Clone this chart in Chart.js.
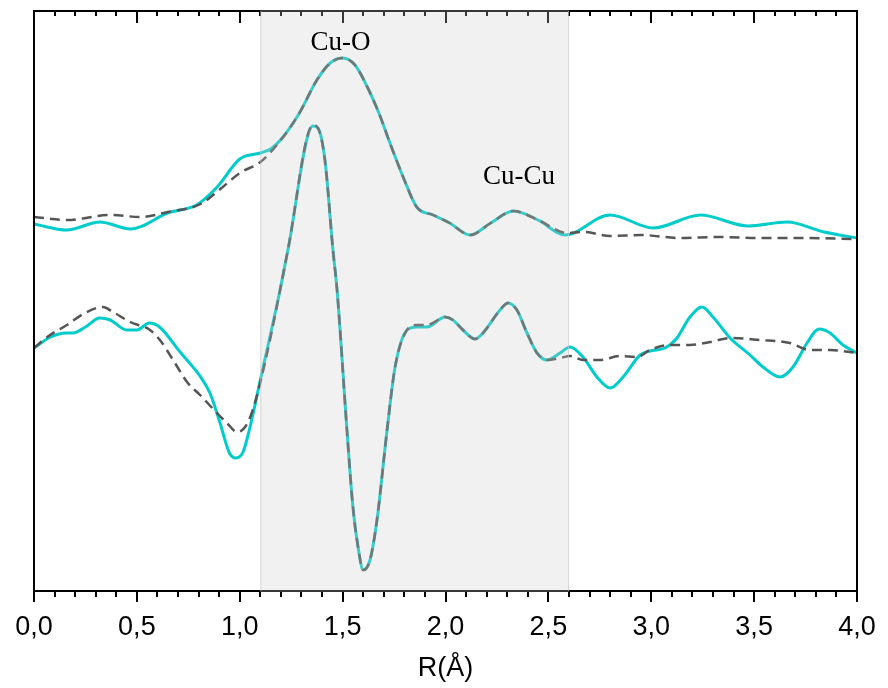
<!DOCTYPE html>
<html>
<head>
<meta charset="utf-8">
<script src="https://cdn.jsdelivr.net/npm/chart.js@4.4.0/dist/chart.umd.min.js"></script>
<style>
  html, body { margin: 0; padding: 0; background: #fff; }
  #wrap { width: 888px; height: 688px; position: relative; }
</style>
</head>
<body>
<div id="wrap"><canvas id="c"></canvas></div>
<script>
// ---- Data (R in Å, intensity in arbitrary units) ----
const magExpR = [0, 0.16, 0.32, 0.47, 0.65, 0.79, 0.89, 1.00, 1.10, 1.15, 1.21, 1.29, 1.375, 1.44, 1.50, 1.56, 1.62, 1.68, 1.73, 1.80, 1.86, 1.94, 2.02, 2.12, 2.22, 2.33, 2.45, 2.58, 2.80, 3.01, 3.24, 3.47, 3.66, 3.84, 4.0];
const magExpI = [367, 361, 369, 362, 378, 386, 404, 432, 438, 442, 454, 478, 511, 528, 533, 526, 504, 476, 448, 411, 384, 376, 368, 356, 368, 380, 371, 356, 376, 363, 376, 365, 369, 359, 353];

const magFitR = [0, 0.16, 0.37, 0.52, 0.65, 0.81, 0.90, 1.00, 1.10, 1.20, 1.29, 1.375, 1.44, 1.50, 1.56, 1.62, 1.68, 1.73, 1.80, 1.86, 1.94, 2.02, 2.12, 2.22, 2.33, 2.45, 2.59, 2.67, 2.80, 2.95, 3.14, 3.33, 3.53, 3.72, 4.0];
const magFitI = [374, 371, 376, 374, 379, 387, 401, 418, 429, 451, 478, 511, 528, 533, 526, 504, 476, 448, 411, 384, 376, 368, 356, 368, 380, 371, 358, 359, 355, 356, 353, 354, 353, 353, 352];

const imExpR = [0, 0.08, 0.16, 0.19, 0.25, 0.32, 0.37, 0.45, 0.50, 0.56, 0.61, 0.71, 0.81, 0.855, 0.90, 0.95, 0.98, 1.016, 1.05, 1.10, 1.196, 1.234, 1.356, 1.38, 1.414, 1.453, 1.473, 1.521, 1.55, 1.575, 1.60, 1.633, 1.667, 1.716, 1.755, 1.813, 1.861, 1.91, 1.998, 2.036, 2.085, 2.143, 2.182, 2.265, 2.304, 2.347, 2.396, 2.445, 2.493, 2.557, 2.605, 2.668, 2.736, 2.80, 2.863, 2.946, 2.994, 3.067, 3.125, 3.188, 3.247, 3.30, 3.383, 3.48, 3.543, 3.626, 3.689, 3.757, 3.816, 3.869, 3.932, 4.0];
const imExpI = [243, 254, 258, 258, 264, 273, 271, 261, 261, 268, 264, 239, 214, 198, 171, 138, 133, 139, 164, 211, 301, 341, 465, 463, 431, 341, 301, 161, 84, 44, 21, 31, 71, 161, 224, 261, 264, 264, 274, 271, 261, 252, 258, 281, 288, 281, 258, 238, 231, 238, 244, 234, 214, 203, 214, 236, 240, 243, 253, 274, 284, 274, 253, 236, 224, 214, 224, 248, 262, 258, 246, 238];

const imFitR = [0, 0.078, 0.16, 0.248, 0.335, 0.384, 0.467, 0.564, 0.612, 0.676, 0.744, 0.807, 0.889, 0.938, 0.987, 1.026, 1.06, 1.099, 1.147, 1.196, 1.234, 1.356, 1.38, 1.414, 1.453, 1.473, 1.521, 1.55, 1.575, 1.60, 1.633, 1.667, 1.716, 1.755, 1.813, 1.861, 1.91, 1.998, 2.036, 2.085, 2.143, 2.182, 2.265, 2.304, 2.347, 2.396, 2.445, 2.493, 2.557, 2.605, 2.668, 2.751, 2.848, 2.931, 2.994, 3.091, 3.188, 3.286, 3.383, 3.529, 3.674, 3.771, 3.869, 4.0];
const imFitI = [243, 256, 266, 278, 284, 279, 269, 261, 251, 231, 209, 196, 178, 168, 159, 164, 179, 208, 251, 301, 341, 466, 463, 431, 341, 301, 161, 84, 44, 21, 31, 71, 161, 224, 261, 266, 266, 274, 271, 261, 252, 258, 281, 288, 281, 258, 238, 231, 233, 235, 231, 231, 235, 234, 241, 246, 246, 249, 253, 251, 248, 241, 241, 238];

const xTickValues = [0, 0.5, 1.0, 1.5, 2.0, 2.5, 3.0, 3.5, 4.0];
const fitWindow = [1.1, 2.6];
const peakLabels = ['Cu-O', 'Cu-Cu'];
const peakLabelR = [1.49, 2.357];
const peakLabelI = [541, 407];

const toXY = (xs, ys) => xs.map((x, i) => ({ x: x, y: ys[i] }));

const CYAN = '#00CCCC';
const GREY = '#555555';

const decor = {
  id: 'decor',
  afterDraw(chart) {
    const ctx = chart.ctx;
    const xs = chart.scales.x, ys = chart.scales.y;
    const { left, right, top, bottom } = chart.chartArea;
    ctx.save();
    // frame
    ctx.strokeStyle = '#000';
    ctx.lineWidth = 2;
    ctx.strokeRect(left, top, right - left, bottom - top);
    // minor ticks + top ticks
    ctx.beginPath();
    for (let i = 0; i <= 40; i++) {
      const v = i / 10;
      const px = Math.round(xs.getPixelForValue(v));
      const major = i % 5 === 0;
      ctx.moveTo(px, top);
      ctx.lineTo(px, top + (major ? 12 : 5));
      if (!major) {
        ctx.moveTo(px, bottom);
        ctx.lineTo(px, bottom + 6);
      }
    }
    ctx.stroke();
    // shaded fit window
    const x0 = xs.getPixelForValue(fitWindow[0]);
    const x1 = xs.getPixelForValue(fitWindow[1]);
    ctx.fillStyle = 'rgba(205,205,205,0.27)';
    ctx.fillRect(x0, top - 1, x1 - x0, bottom - top + 2);
    ctx.strokeStyle = 'rgba(200,200,200,0.6)';
    ctx.lineWidth = 1;
    ctx.beginPath();
    ctx.moveTo(x0 + 0.5, top); ctx.lineTo(x0 + 0.5, bottom);
    ctx.moveTo(x1 - 0.5, top); ctx.lineTo(x1 - 0.5, bottom);
    ctx.stroke();
    // peak labels
    ctx.fillStyle = '#000';
    ctx.font = '27px "Liberation Serif", "Times New Roman", serif';
    ctx.textAlign = 'center';
    ctx.textBaseline = 'alphabetic';
    peakLabels.forEach((t, i) => {
      ctx.fillText(t, xs.getPixelForValue(peakLabelR[i]), ys.getPixelForValue(peakLabelI[i]));
    });
    ctx.restore();
  }
};

const lineDs = (data, color, dashed, order) => ({
  data: data,
  borderColor: color,
  borderWidth: dashed ? 2.5 : 3,
  borderDash: dashed ? [10, 6] : [],
  pointRadius: 0,
  fill: false,
  cubicInterpolationMode: 'monotone',
  order: order
});

new Chart(document.getElementById('c'), {
  type: 'line',
  data: {
    datasets: [
      lineDs(toXY(magFitR, magFitI), GREY, true, 0),
      lineDs(toXY(imFitR, imFitI), GREY, true, 0),
      lineDs(toXY(magExpR, magExpI), CYAN, false, 1),
      lineDs(toXY(imExpR, imExpI), CYAN, false, 1)
    ]
  },
  options: {
    responsive: true,
    maintainAspectRatio: false,
    animation: false,
    events: [],
    layout: { padding: { left: 34, right: 31, top: 11, bottom: 0 } },
    plugins: { legend: { display: false }, tooltip: { enabled: false } },
    scales: {
      x: {
        type: 'linear',
        min: 0, max: 4,
        afterBuildTicks(scale) { scale.ticks = xTickValues.map(v => ({ value: v })); },
        afterFit(scale) { scale.height = 97; },
        ticks: {
          autoSkip: false,
          maxRotation: 0,
          padding: 9,
          color: '#000',
          font: { size: 27, family: '"Liberation Sans", Arial, sans-serif' },
          callback: v => v.toFixed(1).replace('.', ',')
        },
        grid: { display: true, drawOnChartArea: false, drawTicks: true, tickLength: 11, tickColor: '#000', lineWidth: 2, color: '#000' },
        border: { display: true, color: '#000', width: 2 },
        title: {
          display: true,
          text: 'R(Å)',
          color: '#000',
          font: { size: 27, family: '"Liberation Sans", Arial, sans-serif' },
          padding: { top: 0, bottom: 3 }
        }
      },
      y: {
        type: 'linear',
        display: false,
        min: 0, max: 580
      }
    }
  },
  plugins: [decor]
});
</script>
</body>
</html>
